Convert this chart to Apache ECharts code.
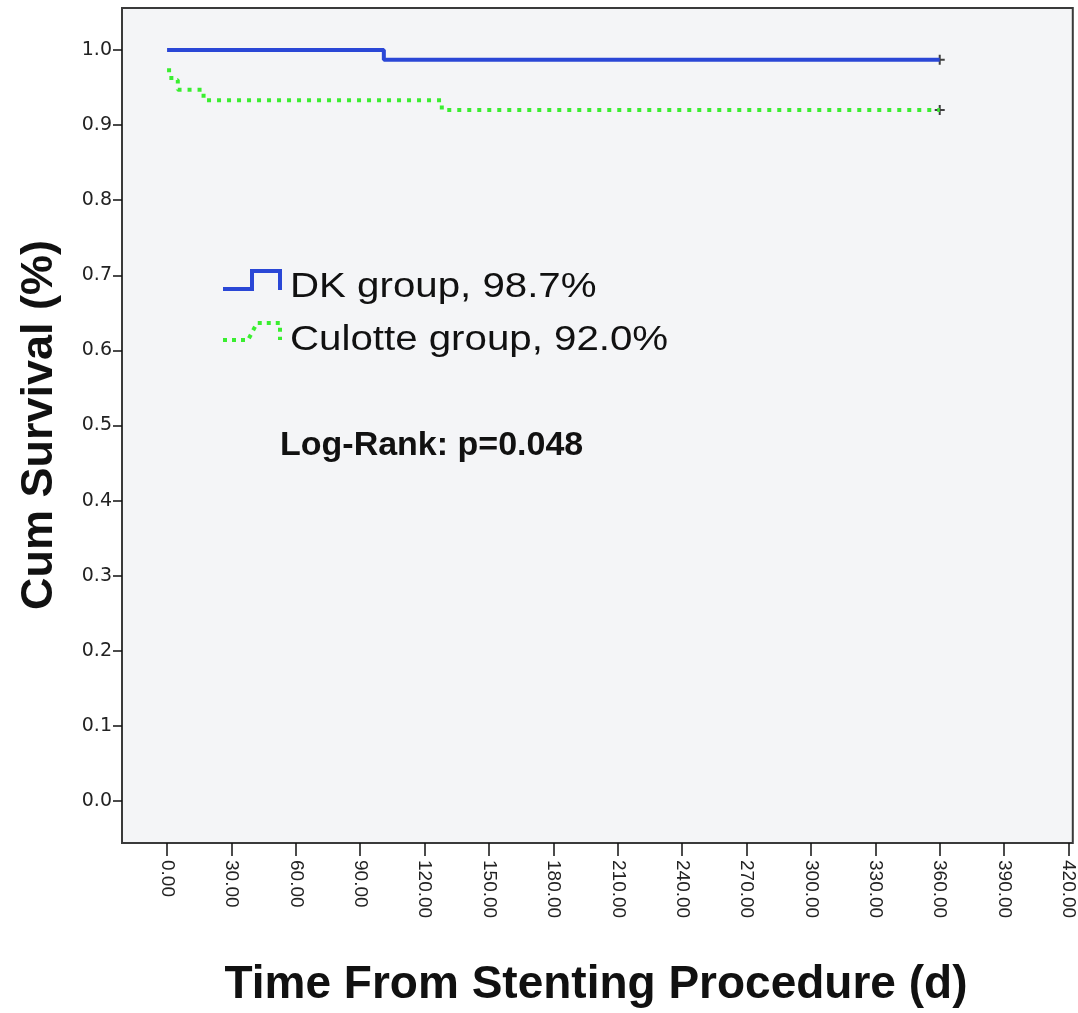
<!DOCTYPE html>
<html>
<head>
<meta charset="utf-8">
<script src="https://cdn.jsdelivr.net/npm/echarts@6/dist/echarts.min.js"></script>
<style>
html,body{margin:0;padding:0;background:#fff;}
#chart{width:1078px;height:1013px;}
</style>
</head>
<body>
<div id="chart"></div>
<script>
// ---- data ----
var xTicks = [0, 30, 60, 90, 120, 150, 180, 210, 240, 270, 300, 330, 360, 390, 420];
var yTicks = [0, 0.1, 0.2, 0.3, 0.4, 0.5, 0.6, 0.7, 0.8, 0.9, 1.0];
var dkTimes = [0, 101, 360];
var dkSurv = [1.0, 0.987, 0.987];
var culTimes = [0, 2, 5, 17, 128, 360];
var culSurv = [0.973, 0.960, 0.947, 0.933, 0.920, 0.920];
var dkCensor = [[360, 0.987]];
var culCensor = [[360, 0.920]];
var legendLabels = ['DK group, 98.7%', 'Culotte group, 92.0%'];
var statText = 'Log-Rank: p=0.048';
var xTitle = 'Time From Stenting Procedure (d)';
var yTitle = 'Cum Survival (%)';

function pairs(t, s) { return t.map(function (v, i) { return [v, s[i]]; }); }

var BLUE = '#2a47d6';
var GREEN = '#3aee30';
var plusPath = 'path://M4,0H6V4H10V6H6V10H4V6H0V4H4Z';

var chart = echarts.init(document.getElementById('chart'), null, {renderer: 'canvas'});
chart.setOption({
  animation: false,
  backgroundColor: '#ffffff',
  grid: {
    left: 122, right: 3, top: 8, bottom: 170,
    show: true, backgroundColor: '#f4f5f7', borderColor: '#3a3a3a', borderWidth: 2
  },
  xAxis: {
    type: 'value', min: -21, max: 422,
    axisLine: {show: false, onZero: false},
    splitLine: {show: false},
    axisTick: {show: true, inside: false, length: 13, customValues: xTicks, lineStyle: {color: '#111', width: 1.5}},
    axisLabel: {
      customValues: xTicks, rotate: -90, margin: 17,
      fontFamily: 'Liberation Sans', fontSize: 19, color: '#222',
      formatter: function (v) { return v.toFixed(2); }
    }
  },
  yAxis: {
    type: 'value', min: -0.056, max: 1.056,
    axisLine: {show: false, onZero: false},
    splitLine: {show: false},
    axisTick: {show: true, inside: false, length: 9, customValues: yTicks, lineStyle: {color: '#111', width: 1.5}},
    axisLabel: {
      customValues: yTicks, margin: 10,
      fontFamily: 'DejaVu Sans', fontSize: 19, color: '#222',
      formatter: function (v) { return v.toFixed(1); }
    }
  },
  series: [
    {
      type: 'line', step: 'end', symbol: 'none', silent: true,
      data: pairs(dkTimes, dkSurv),
      lineStyle: {color: BLUE, width: 4}
    },
    {
      type: 'line', step: 'end', symbol: 'none', silent: true,
      data: pairs(culTimes, culSurv),
      lineStyle: {color: GREEN, width: 4, type: [4, 6]}
    },
    {
      type: 'scatter', symbol: plusPath, symbolSize: 10, silent: true,
      data: dkCensor.concat(culCensor),
      itemStyle: {color: '#111'}
    }
  ],
  graphic: [
    {type: 'polyline', shape: {points: [[223, 289], [252, 289], [252, 271], [280, 271], [280, 290]]},
     style: {stroke: BLUE, lineWidth: 4, fill: null}},
    {type: 'polyline', shape: {points: [[223, 340], [248, 340], [257, 323], [280, 323], [280, 340]]},
     style: {stroke: GREEN, lineWidth: 4, fill: null, lineDash: [4, 5]}},
    {type: 'text', x: 290, y: 287, scaleX: 1.15,
     style: {text: legendLabels[0], fontFamily: 'Liberation Sans', fontSize: 35, fill: '#111', verticalAlign: 'middle'}},
    {type: 'text', x: 290, y: 340, scaleX: 1.15,
     style: {text: legendLabels[1], fontFamily: 'Liberation Sans', fontSize: 35, fill: '#111', verticalAlign: 'middle'}},
    {type: 'text', x: 280, y: 446,
     style: {text: statText, fontFamily: 'Liberation Sans', fontWeight: 'bold', fontSize: 34, fill: '#111', verticalAlign: 'middle'}},
    {type: 'text', x: 596, y: 985,
     style: {text: xTitle, fontFamily: 'Liberation Sans', fontWeight: 'bold', fontSize: 46, fill: '#111', align: 'center', verticalAlign: 'middle'}},
    {type: 'text', x: 40, y: 425, rotation: Math.PI / 2,
     style: {text: yTitle, fontFamily: 'Liberation Sans', fontWeight: 'bold', fontSize: 45, fill: '#111', align: 'center', verticalAlign: 'middle'}}
  ]
});
</script>
</body>
</html>
